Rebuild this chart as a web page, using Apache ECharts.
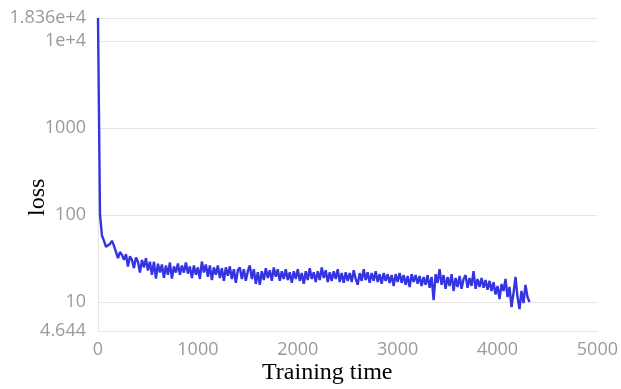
<!DOCTYPE html>
<html>
<head>
<meta charset="utf-8">
<script src="https://cdn.jsdelivr.net/npm/echarts@6/dist/echarts.min.js"></script>
<style>html,body{margin:0;padding:0;background:#fff}#c{width:621px;height:389px}</style>
</head>
<body>
<div id="c"></div>
<script>
const xTicks = [0, 1000, 2000, 3000, 4000, 5000];
const yTickLabels = ['4.644', '10', '100', '1000', '1e+4', '1.836e+4'];
const trainingTime = [
0,20,40,60,80,100,120,140,160,180,200,220,240,260,280,300,320,340,360,380,
400,420,440,460,480,500,520,540,560,580,600,620,640,660,680,700,720,740,760,780,
800,820,840,860,880,900,920,940,960,980,1000,1020,1040,1060,1080,1100,1120,1140,1160,1180,
1200,1220,1240,1260,1280,1300,1320,1340,1360,1380,1400,1420,1440,1460,1480,1500,1520,1540,1560,1580,
1600,1620,1640,1660,1680,1700,1720,1740,1760,1780,1800,1820,1840,1860,1880,1900,1920,1940,1960,1980,
2000,2020,2040,2060,2080,2100,2120,2140,2160,2180,2200,2220,2240,2260,2280,2300,2320,2340,2360,2380,
2400,2420,2440,2460,2480,2500,2520,2540,2560,2580,2600,2620,2640,2660,2680,2700,2720,2740,2760,2780,
2800,2820,2840,2860,2880,2900,2920,2940,2960,2980,3000,3020,3040,3060,3080,3100,3120,3140,3160,3180,
3200,3220,3240,3260,3280,3300,3320,3340,3360,3380,3400,3420,3440,3460,3480,3500,3520,3540,3560,3580,
3600,3620,3640,3660,3680,3700,3720,3740,3760,3780,3800,3820,3840,3860,3880,3900,3920,3940,3960,3980,
4000,4020,4040,4060,4080,4100,4120,4140,4160,4180,4200,4220,4240,4260,4280,4300,4320
];
const loss = [
18360,101,57.7,50.5,43.1,41.9,46.5,50.5,44.2,37.7,32.0,37.5,34.8,30.5,35.5,25.5,33.5,30.5,24.5,32.5,
29.0,21.8,30.5,25.0,31.8,23.0,29.0,20.5,29.0,18.6,27.5,21.8,27.0,19.0,26.3,20.6,28.4,18.6,25.7,21.8,
27.7,20.6,26.3,21.8,28.4,21.2,25.7,18.9,26.3,20.6,25.0,18.4,29.2,21.8,27.0,19.5,26.3,17.9,25.0,20.6,
26.3,18.9,24.4,17.5,25.0,20.0,25.7,18.4,23.8,16.6,23.2,25.0,18.4,23.8,17.5,22.6,26.3,18.4,23.8,16.2,
22.0,15.8,22.6,17.9,24.4,18.9,23.2,17.5,25.0,19.5,23.8,17.5,22.6,18.4,23.8,17.9,22.0,16.6,22.6,18.4,
23.8,17.5,21.5,16.2,22.6,17.9,24.4,18.4,22.0,17.0,22.6,17.9,25.0,18.9,23.2,17.0,22.0,17.5,22.6,18.4,
23.8,17.0,21.5,16.6,22.0,17.5,21.5,17.0,23.2,18.4,15.8,21.5,17.5,23.8,17.9,22.0,16.6,21.5,17.5,22.6,
17.0,20.9,16.2,21.5,17.5,20.9,16.6,20.4,15.3,20.9,17.0,21.5,16.6,20.4,15.8,19.9,14.9,20.9,17.0,20.4,
16.2,19.9,15.3,19.4,15.8,20.4,14.6,19.4,10.5,20.9,16.6,23.8,15.8,20.4,14.2,19.4,15.3,20.9,13.4,18.9,
14.9,19.9,14.2,18.4,20.4,14.6,18.9,15.3,22.6,14.2,18.4,14.9,18.9,14.6,17.9,13.8,17.5,13.4,16.9,12.2,
15.3,10.8,16.1,13.4,18.4,11.4,14.9,8.75,12.7,19.4,11.4,8.3,13.4,9.7,15.7,11.4,10.0
];

const chart = echarts.init(document.getElementById('c'), null, {renderer: 'canvas'});
const labelColor = '#9a9a9a';
const gridColor = '#e6e6e6';
const fmtY = v => {
  const r = Number(Number(v).toPrecision(4));
  return r >= 1e4 ? r.toExponential() : String(r);
};
chart.setOption({
  animation: false,
  grid: {left: 98, right: 22, top: 18, bottom: 58, containLabel: false},
  xAxis: {
    type: 'value',
    min: xTicks[0],
    max: xTicks[xTicks.length - 1],
    interval: xTicks[1] - xTicks[0],
    axisLine: {show: true, lineStyle: {color: gridColor}},
    axisTick: {show: false},
    splitLine: {show: false},
    axisLabel: {color: labelColor, fontSize: 18, fontFamily: 'Open Sans', margin: 10, formatter: v => String(v)}
  },
  yAxis: {
    type: 'log',
    logBase: 10,
    min: Number(yTickLabels[0]),
    max: 18360,
    axisLine: {show: true, lineStyle: {color: gridColor}},
    axisTick: {show: false},
    splitLine: {show: true, lineStyle: {color: gridColor}},
    axisLabel: {color: labelColor, fontSize: 18, fontFamily: 'Open Sans', margin: 12, formatter: fmtY}
  },
  graphic: [
    {type: 'text', left: 262, top: 361, style: {text: 'Training time', font: '24px "Liberation Serif"', fill: '#000'}},
    {type: 'text', x: 26, y: 216, rotation: Math.PI / 2, style: {text: 'loss', font: '24px "Liberation Serif"', fill: '#000'}}
  ],
  series: [{
    type: 'line',
    data: trainingTime.map((t, i) => [t, loss[i]]),
    showSymbol: false,
    lineStyle: {color: '#3434e0', width: 2.4},
    itemStyle: {color: '#3434e0'}
  }]
});
</script>
</body>
</html>
